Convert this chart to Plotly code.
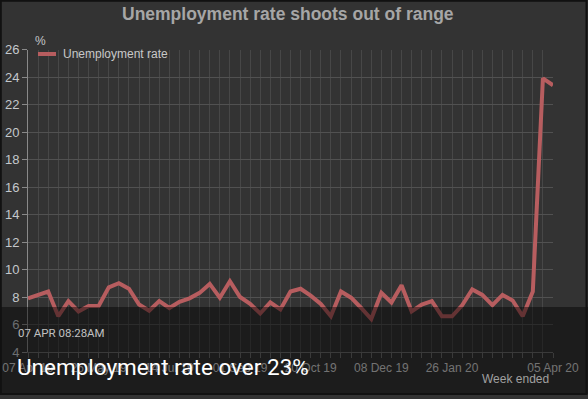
import plotly.graph_objects as go
import pandas as pd

# ---- data ----
start_week = "2019-04-07"
n_weeks = 53
unemployment_rate = [
    7.9, 8.15, 8.4, 6.6, 7.7, 6.95, 7.35, 7.35, 8.7, 9.0,
    8.6, 7.45, 7.0, 7.7, 7.2, 7.65, 7.9, 8.3, 8.95, 7.95,
    9.15, 8.0, 7.5, 6.8, 7.6, 7.1, 8.4, 8.6, 8.1, 7.5,
    6.6, 8.4, 7.95, 7.2, 6.4, 8.3, 7.6, 8.85, 6.95, 7.45,
    7.7, 6.6, 6.6, 7.4, 8.55, 8.15, 7.4, 8.15, 7.75, 6.6,
    8.4, 23.9, 23.4,
]
label_weeks = [0, 7, 14, 21, 28, 35, 42, 52]
y_ticks = [4, 6, 8, 10, 12, 14, 16, 18, 20, 22, 24, 26]

weeks = pd.date_range(start_week, periods=n_weeks, freq="7D")
tick_text = [w.strftime("%d %b %y") if i in label_weeks else "" for i, w in enumerate(weeks)]

W, H = 588, 399
def px(x):
    return x / W
def py(y):
    return 1 - y / H

LINE = "#b75d5f"
FONT = "Liberation Sans, Arial, sans-serif"

fig = go.Figure()
fig.add_trace(go.Scatter(
    x=weeks, y=unemployment_rate, mode="lines",
    line=dict(color=LINE, width=4), name="Unemployment rate",
    showlegend=False, hoverinfo="x+y",
))

fig.update_layout(
    width=W, height=H, autosize=False,
    margin=dict(l=0, r=0, t=0, b=0, pad=0),
    paper_bgcolor="#333333", plot_bgcolor="#333333",
    font=dict(family=FONT, size=12, color="#c4c6c8"),
    xaxis=dict(
        domain=[px(28), px(553)],
        range=[weeks[0], weeks[-1]],
        tickmode="array", tickvals=weeks, ticktext=tick_text,
        showgrid=True, gridcolor="#474747", gridwidth=1,
        ticks="outside", ticklen=5, tickcolor="#6a6a6a",
        showline=True, linecolor="#6a6a6a", linewidth=1,
        tickfont=dict(color="#d0d0d0", size=12, family=FONT),
        zeroline=False, automargin=False,
    ),
    yaxis=dict(
        domain=[py(352), py(49.5)],
        range=[4, 26], tickmode="array", tickvals=y_ticks,
        showgrid=True, gridcolor="#515151", gridwidth=1,
        ticks="outside", ticklen=5, tickcolor="#8a8a8a",
        showline=True, linecolor="#8a8a8a", linewidth=1,
        tickfont=dict(color="#c4c8cc", size=13, family=FONT),
        zeroline=False, automargin=False,
    ),
)

shapes = [
    # legend sample
    dict(type="line", xref="paper", yref="paper", x0=px(38), x1=px(56), y0=py(54), y1=py(54),
         line=dict(color=LINE, width=4), layer="above"),
    # dark news overlay band
    dict(type="rect", xref="paper", yref="paper", x0=0, x1=1, y0=py(394), y1=py(307),
         fillcolor="rgba(0,0,0,0.45)", line=dict(width=0), layer="above"),
    # frame
    dict(type="rect", xref="paper", yref="paper", x0=px(0.8), x1=px(586.5), y0=py(394), y1=py(0.8),
         fillcolor="rgba(0,0,0,0)", line=dict(color="#111111", width=2), layer="above"),
]
fig.update_layout(shapes=shapes)

annotations = [
    dict(text="<b>Unemployment rate shoots out of range</b>", x=px(288), y=py(14),
         font=dict(size=17.5, color="#a6a6a6", family=FONT)),
    dict(text="%", x=px(33), y=py(41), xanchor="left", font=dict(size=12, color="#c4c6c8", family=FONT)),
    dict(text="Unemployment rate", x=px(61), y=py(54.5), xanchor="left",
         font=dict(size=12, color="#c8c8c8", family=FONT)),
    dict(text="Week ended", x=px(551), y=py(379), xanchor="right",
         font=dict(size=12, color="#a0a0a0", family=FONT)),
    dict(text="07 APR 08:28AM", x=px(16), y=py(333), xanchor="left",
         font=dict(size=11.5, color="#c0c0c0", family="Roboto, sans-serif")),
    dict(text="Unemployment rate over 23%", x=px(15), y=py(367), xanchor="left",
         font=dict(size=22.5, color="#ffffff", family="Roboto, sans-serif")),
]
for a in annotations:
    a.update(xref="paper", yref="paper", showarrow=False, yanchor="middle")
    a.setdefault("xanchor", "center")
fig.update_layout(annotations=annotations)

fig.write_html(
    "out.html",
    config={"displayModeBar": False},
    post_script="document.body.style.margin='0';document.body.style.background='#333333';",
)
